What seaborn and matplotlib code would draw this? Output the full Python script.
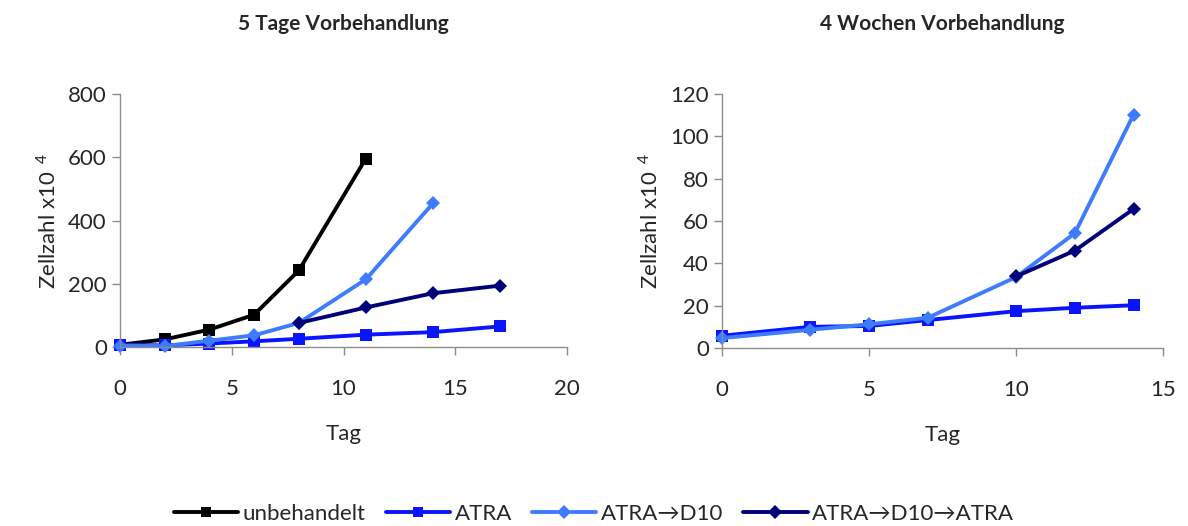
import matplotlib
matplotlib.use("Agg")
import matplotlib.pyplot as plt
import pandas as pd
import seaborn as sns

# --- data ---
series_names = ["unbehandelt", "ATRA", "ATRA→D10", "ATRA→D10→ATRA"]
colors = ["#000000", "#0a14ff", "#3d7cff", "#00007a"]
markers = ["s", "s", "D", "D"]

# 5 Tage Vorbehandlung
left_unb_x = [0, 2, 4, 6, 8, 11]
left_unb_y = [7, 24, 55, 102, 242, 596]
left_atra_x = [0, 2, 4, 6, 8, 11, 14, 17]
left_atra_y = [7, 5, 11, 18, 26, 39, 47, 65]
left_d10_x = [0, 2, 4, 6, 8, 11, 14]
left_d10_y = [4, 3, 20, 37, 76, 214, 454]
left_d10a_x = [8, 11, 14, 17]
left_d10a_y = [76, 125, 170, 194]

# 4 Wochen Vorbehandlung
right_atra_x = [0, 3, 5, 7, 10, 12, 14]
right_atra_y = [5.8, 10, 10.4, 13.2, 17.4, 19, 20.2]
right_d10_x = [0, 3, 5, 7, 10, 12, 14]
right_d10_y = [4.7, 8.6, 11.2, 14.3, 33.5, 54.2, 110.3]
right_d10a_x = [10, 12, 14]
right_d10a_y = [33.8, 46, 65.7]


def frame(name, xs, ys):
    return pd.DataFrame({"Tag": xs, "Zellzahl": ys, "Gruppe": name})


left = pd.concat([
    frame(series_names[0], left_unb_x, left_unb_y),
    frame(series_names[1], left_atra_x, left_atra_y),
    frame(series_names[2], left_d10_x, left_d10_y),
    frame(series_names[3], left_d10a_x, left_d10a_y),
])
right = pd.concat([
    frame(series_names[1], right_atra_x, right_atra_y),
    frame(series_names[2], right_d10_x, right_d10_y),
    frame(series_names[3], right_d10a_x, right_d10a_y),
])

sns.set_style("white")
plt.rcParams["font.family"] = ["Lato", "DejaVu Sans"]
plt.rcParams["mathtext.fontset"] = "custom"
plt.rcParams["mathtext.rm"] = "Lato"

fig = plt.figure(figsize=(11.88, 5.26), dpi=100)
ax1 = fig.add_axes([120 / 1188, 1 - 347 / 526, 447 / 1188, 253 / 526])
ax2 = fig.add_axes([722 / 1188, 1 - 348 / 526, 441 / 1188, 254 / 526])

palette = dict(zip(series_names, colors))
marker_map = dict(zip(series_names, markers))


def draw(ax, df):
    for name in series_names:
        sub = df[df["Gruppe"] == name]
        if sub.empty:
            continue
        ms = 8 if marker_map[name] == "s" else 7
        sns.lineplot(ax=ax, data=sub, x="Tag", y="Zellzahl", color=palette[name],
                     marker=marker_map[name], markersize=ms, markeredgewidth=0,
                     linewidth=2.8, errorbar=None, label=name, legend=False)


draw(ax1, left)
draw(ax2, right)

ax1.set_xlim(0, 20)
ax1.set_ylim(0, 800)
ax1.set_xticks([0, 5, 10, 15, 20])
ax1.set_yticks([0, 200, 400, 600, 800])
ax1.set_title("5 Tage Vorbehandlung", fontsize=15, fontweight="bold", pad=46)

ax2.set_xlim(0, 15)
ax2.set_ylim(0, 120)
ax2.set_xticks([0, 5, 10, 15])
ax2.set_yticks([0, 20, 40, 60, 80, 100, 120])
ax2.set_title("4 Wochen Vorbehandlung", fontsize=15, fontweight="bold", pad=46)

for ax in (ax1, ax2):
    sns.despine(ax=ax)
    for s in ("left", "bottom"):
        ax.spines[s].set_color("#8c8c8c")
        ax.spines[s].set_linewidth(1.0)
    ax.tick_params(axis="both", which="both", direction="out", length=6, width=1,
                   color="#8c8c8c", labelsize=16, left=True, bottom=True)
    ax.tick_params(axis="x", pad=17)
    ax.set_xlabel("Tag", fontsize=16, labelpad=18)
    ax.set_ylabel("Zellzahl x10 $^{\\,4}$", fontsize=16, labelpad=6)
    for line in ax.get_lines():
        line.set_clip_on(False)

handles = [plt.Line2D([], [], color=c, marker=m, markersize=7, markeredgewidth=0,
                      linewidth=2.8) for c, m in zip(colors, markers)]
fig.legend(handles, series_names, loc="center", bbox_to_anchor=(0.5, 1 - 514 / 526),
           ncol=4, frameon=False, fontsize=16, handlelength=2.9, handletextpad=0.2,
           columnspacing=0.9)

fig.savefig("out.png", dpi=100)
